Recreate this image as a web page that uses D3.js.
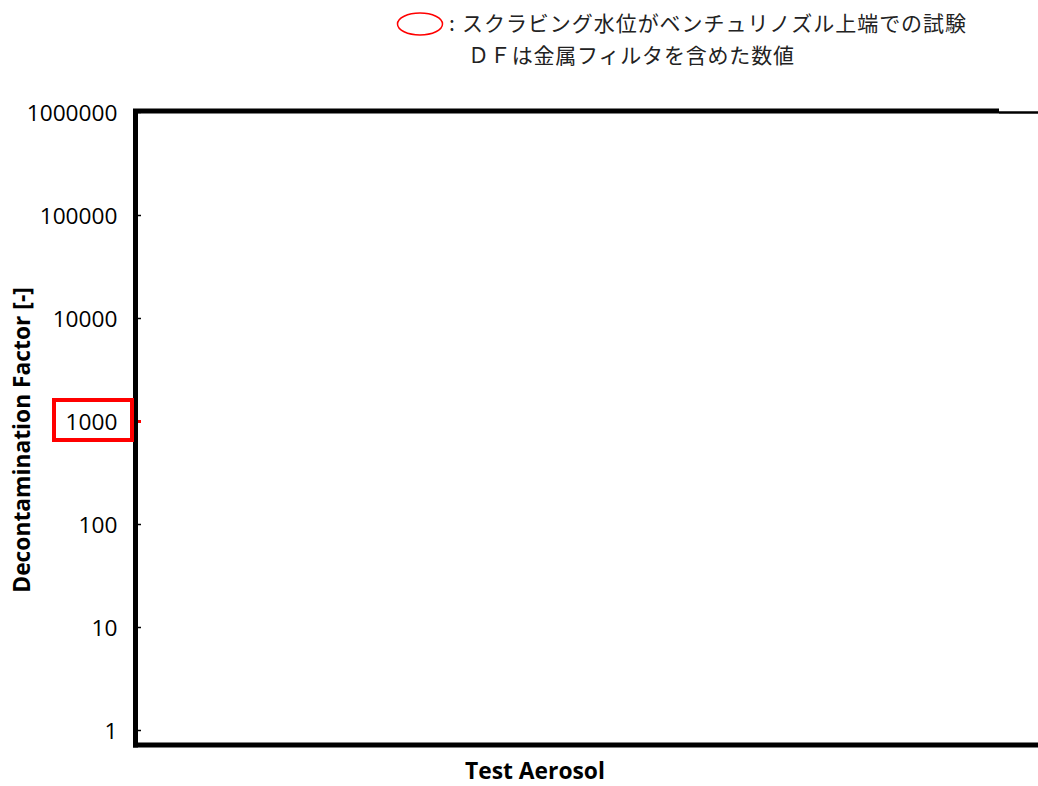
<!DOCTYPE html>
<html lang="ja">
<head>
  <meta charset="UTF-8">
  <title>Decontamination Factor</title>
  <style>
    body { margin: 0; background: #fff; }
    .tick text { font-family: "Open Sans", sans-serif; font-size: 22.7px; fill: #000; }
    .title { font-family: "Open Sans", sans-serif; font-weight: bold; font-size: 22.8px; fill: #000; }
    .note { font-family: "Noto Sans CJK JP", sans-serif; font-size: 21px; fill: #222; }
  </style>
</head>
<body>
<div id="chart"></div>
<script src="https://cdnjs.cloudflare.com/ajax/libs/d3/7.8.5/d3.min.js"></script>
<script>
  // axis values
  const yTicks = [1, 10, 100, 1000, 10000, 100000, 1000000];
  const highlightTicks = [1000];
  const categories = [];   // no test aerosol bars in the picture
  const noteLines = ["スクラビング水位がベンチュリノズル上端での試験", "ＤＦは金属フィルタを含めた数値"];
  const xTitle = "Test Aerosol";
  const yTitle = "Decontamination Factor [-]";

  const W = 1038, H = 786;
  const plotLeft = 135.5, plotRight = 1060;
  const plotTop = 112, tickBottom = 730, plotBottom = 745;

  const svg = d3.select('#chart').append('svg')
    .attr('width', W).attr('height', H);

  const y = d3.scaleLog().domain([1, 1000000]).range([tickBottom, plotTop]);
  const x = d3.scaleBand().domain(categories).range([plotLeft, plotRight]).padding(0.2);

  // tick labels
  const yAxis = svg.append('g')
    .attr('transform', 'translate(' + (plotLeft - 18) + ',0)')
    .call(d3.axisLeft(y).tickValues(yTicks).tickSize(0).tickPadding(0).tickFormat(d3.format('d')));
  yAxis.select('.domain').remove();
  yAxis.selectAll('.tick text').attr('dy', '0.36em');

  // small inside ticks
  svg.append('g')
    .attr('transform', 'translate(' + (plotLeft + 2.5) + ',0)')
    .call(d3.axisRight(y).tickValues(yTicks).tickSize(3).tickFormat(''))
    .call(g => g.select('.domain').remove())
    .call(g => g.selectAll('.tick line')
      .attr('stroke', d => highlightTicks.includes(d) ? '#ff0000' : '#000')
      .attr('stroke-width', d => highlightTicks.includes(d) ? 3 : 1.5));

  // frame
  svg.append('line').attr('x1', plotLeft).attr('x2', plotLeft).attr('y1', plotTop - 2.5).attr('y2', plotBottom + 2.5)
    .attr('stroke', '#000').attr('stroke-width', 5);
  svg.append('line').attr('x1', plotLeft - 2.5).attr('x2', 999).attr('y1', plotTop - 1).attr('y2', plotTop - 1)
    .attr('stroke', '#000').attr('stroke-width', 5);
  svg.append('line').attr('x1', 999).attr('x2', W).attr('y1', plotTop + 0.5).attr('y2', plotTop + 0.5)
    .attr('stroke', '#000').attr('stroke-width', 2.5);
  svg.append('line').attr('x1', plotLeft - 2.5).attr('x2', W).attr('y1', plotBottom).attr('y2', plotBottom)
    .attr('stroke', '#000').attr('stroke-width', 5);

  // red box around highlighted tick label
  highlightTicks.forEach(v => {
    svg.append('rect')
      .attr('x', 54).attr('y', y(v) - 21)
      .attr('width', 78).attr('height', 40)
      .attr('fill', 'none').attr('stroke', '#ff0000').attr('stroke-width', 4);
  });

  // titles
  svg.append('text').attr('class', 'title')
    .attr('x', 535).attr('y', 779).attr('text-anchor', 'middle')
    .text(xTitle);
  svg.append('text').attr('class', 'title')
    .attr('transform', 'translate(30,440) rotate(-90)')
    .attr('text-anchor', 'middle')
    .text(yTitle);

  // note at the top
  svg.append('ellipse')
    .attr('cx', 420).attr('cy', 24).attr('rx', 22.5).attr('ry', 11)
    .attr('fill', 'none').attr('stroke', '#ff0000').attr('stroke-width', 1.5);
  svg.append('text').attr('class', 'note').attr('x', 449).attr('y', 31).text(':');
  svg.selectAll('text.noteline').data(noteLines).enter().append('text')
    .attr('class', 'note noteline')
    .attr('x', (d, i) => i === 0 ? 462 : 468)
    .attr('y', (d, i) => 31 + i * 32)
    .attr('textLength', (d, i) => i === 0 ? 504 : 326)
    .attr('lengthAdjust', 'spacing')
    .text(d => d);
</script>
</body>
</html>
